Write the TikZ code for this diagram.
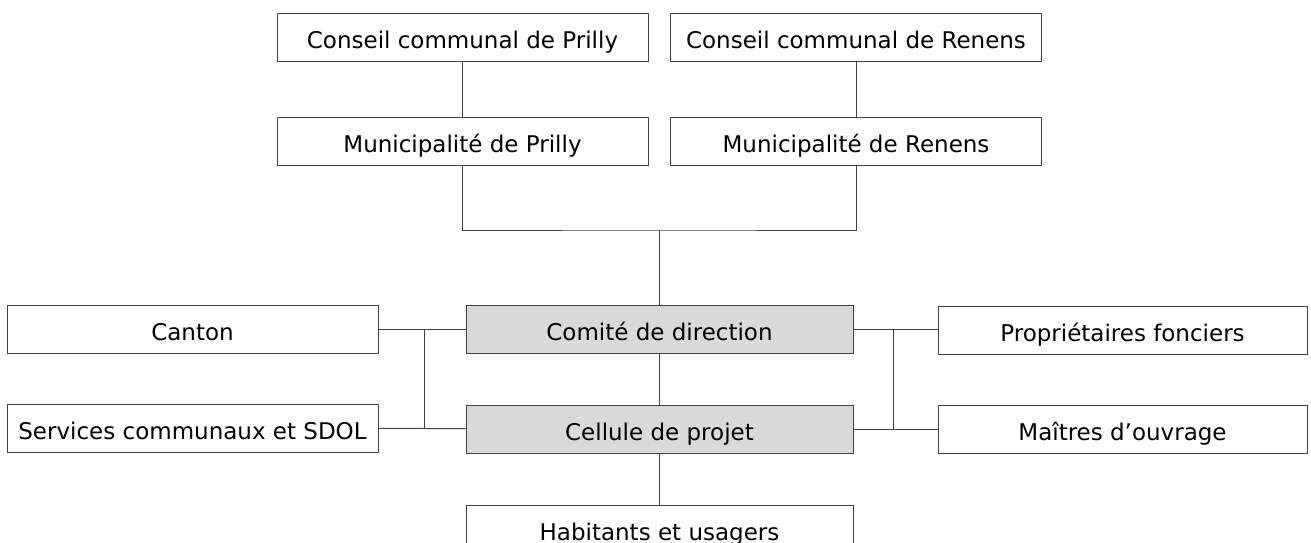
\documentclass[tikz,border=0pt]{standalone}
\usepackage{fontspec}
\setmainfont{DejaVu Sans}
\usetikzlibrary{positioning}
\definecolor{boxgray}{HTML}{D9D9D9}
\definecolor{linegray}{HTML}{404040}

\begin{document}
\begin{tikzpicture}[
    x = 1pt, y = -1pt,
    font = \fontsize{23}{27}\selectfont,
    box/.style = {
      draw = linegray, line width = 1pt, fill = white,
      minimum width = 371pt, minimum height = 48pt, inner sep = 0pt,
      text height = 22pt, text depth = 0pt,
    },
    core/.style = {box, fill = boxgray, minimum width = 387pt},
  ]
  \useasboundingbox (0, 0) rectangle (1311, 543);

  \node[box] (CP) at (462.5, 37.5) {Conseil communal de Prilly};
  \node[box] (CR) at (856, 37.5)   {Conseil communal de Renens};
  \node[box, below = 55pt of CP] (MP) {Municipalité de Prilly};
  \node[box, below = 55pt of CR] (MR) {Municipalité de Renens};

  \node[core] (comite) at (659.5, 329) {Comité de direction};
  \node[core, below = 51pt of comite] (cellule) {Cellule de projet};
  \node[box, minimum width = 387pt, below = 51pt of cellule] (habitants) {Habitants et usagers};

  \node[box] (canton)   at (192.5, 329) {Canton};
  \node[box] (services) at (192.5, 428) {Services communaux et SDOL};
  \node[box, minimum width = 369pt] (proprio) at (1122.5, 330) {Propriétaires fonciers};
  \node[box, minimum width = 369pt] (maitres) at (1122.5, 429) {Maîtres d’ouvrage};

  \coordinate (top)   at (comite.north |- 0, 230);
  \coordinate (left)  at (424, 0);
  \coordinate (right) at (893, 0);

  \begin{scope}[draw = linegray, line width = 1pt]
    \draw (CP) -- (MP);
    \draw (CR) -- (MR);
    \draw (MP) |- (top) -| (MR);
    \draw (top) -- (comite);
    \draw (comite) -- (cellule);
    \draw (cellule) -- (habitants);

    \draw (canton) -- (comite);
    \draw (services) -- (cellule);
    \draw (left |- canton) -- (left |- services);

    \draw (comite) -- (comite -| proprio.west);
    \draw (cellule) -- (cellule -| maitres.west);
    \draw (right |- comite) -- (right |- cellule);
  \end{scope}
\end{tikzpicture}
\end{document}
